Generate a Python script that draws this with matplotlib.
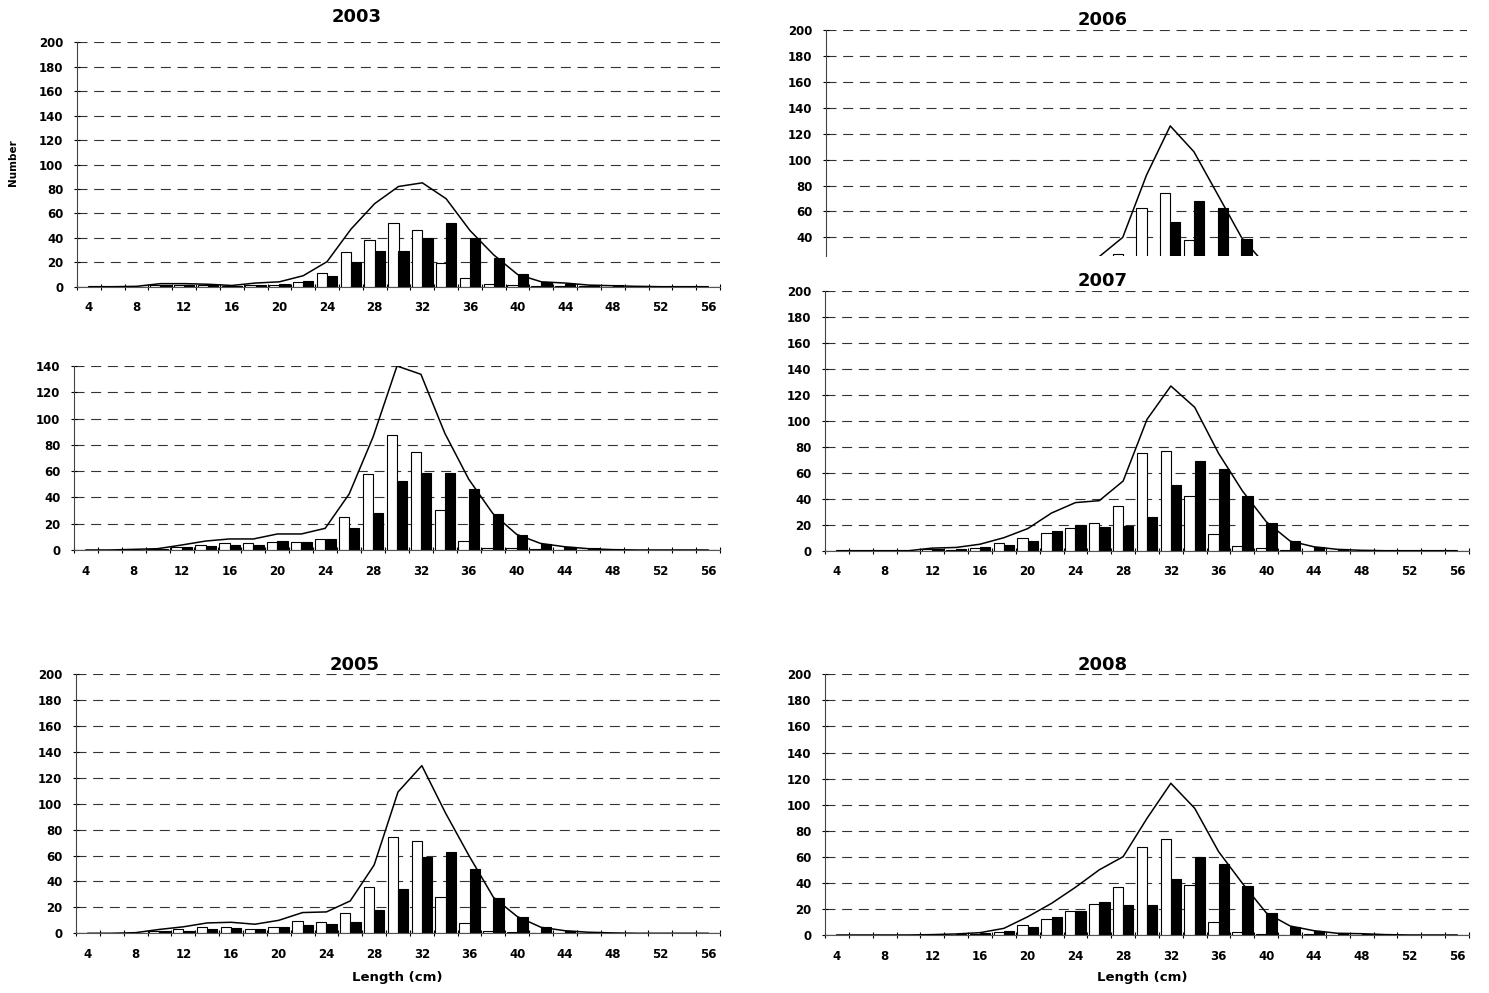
import matplotlib
matplotlib.use("Agg")
import matplotlib.pyplot as plt
import numpy as np

plt.rcParams['font.family'] = 'DejaVu Sans'
plt.rcParams['font.weight'] = 'bold'

# length classes (cm)
lengths = [4, 6, 8, 10, 12, 14, 16, 18, 20, 22, 24, 26, 28, 30, 32, 34,
           36, 38, 40, 42, 44, 46, 48, 50, 52, 54, 56]

# white bars, black bars and the total line for each year
white_2003 = [0, 0, 0, 1, 1, 1, 0.5, 1.5, 1.5, 4, 11.5, 28, 38, 52.5, 46, 19, 7, 2, 1, 0.5, 0.5, 0.3, 0, 0, 0, 0, 0]
black_2003 = [0, 0, 0, 1.5, 1.5, 1, 0.5, 1.5, 2.5, 5, 9, 20, 29.5, 29.5, 40, 52.5, 40, 23.5, 10, 4, 2.5, 1, 1, 0.3, 0, 0, 0]
total_2003 = [0, 0, 0.3, 2.5, 2.5, 2, 1, 3, 4, 9, 20.5, 47, 68, 82, 85, 72, 46, 26, 10, 4, 3, 1.3, 0.8, 0.3, 0, 0, 0]

white_2004 = [0, 0, 0, 0.5, 2, 3.8, 5, 5, 5.8, 5.8, 8.4, 25.4, 57.8, 87.5, 74.8, 30.4, 7.1, 1.8, 1.8, 0.8, 0.3, 0, 0, 0, 0, 0, 0]
black_2004 = [0, 0, 0, 0.5, 2, 3, 4, 4, 6.8, 6.1, 8.4, 16.7, 28.4, 52.5, 58.8, 58.8, 46.4, 27.4, 11.4, 4.3, 2.3, 1.3, 0.3, 0, 0, 0, 0]
total_2004 = [0, 0, 0.5, 1, 3.8, 6.8, 8.4, 8.4, 12.2, 12.2, 16.5, 42.6, 86, 140, 133.7, 88.8, 53.8, 27.9, 11.9, 5, 2.5, 1, 0.3, 0, 0, 0, 0]

white_2005 = [0, 0, 0, 1.5, 3, 5, 4.5, 3.5, 5, 9.5, 9, 16, 35.5, 74.6, 71.2, 27.8, 8.2, 1.8, 1, 0.3, 0, 0, 0, 0, 0, 0, 0]
black_2005 = [0, 0, 0, 1.5, 2, 3, 4, 3.5, 5, 6.5, 7.5, 9, 18, 34.4, 59.1, 63, 49.4, 27, 12.3, 4.9, 1.8, 1, 0.3, 0, 0, 0, 0]
total_2005 = [0, 0, 0.5, 3, 5, 8, 8.5, 7, 10, 16, 16.5, 25, 52.7, 109, 129.3, 92.5, 59.1, 27.8, 12.9, 4.6, 2, 0.8, 0.3, 0, 0, 0, 0]

white_2006 = [0, 0, 0, 0, 0.5, 1, 2, 4, 6, 8, 10, 12, 27, 63, 74, 38, 10, 1, 1, 0.3, 0, 0, 0, 0, 0, 0, 0]
black_2006 = [0, 0, 0, 0, 0.5, 1, 1.5, 3, 5, 8, 11, 13, 13, 25, 52, 68, 63, 39, 18, 5, 2, 0.5, 0.3, 0, 0, 0, 0]
total_2006 = [0, 0, 0, 0, 1, 2, 3.5, 7, 11, 16, 21, 25, 40, 88, 126, 106, 73, 40, 19, 5.3, 2, 0.5, 0.3, 0, 0, 0, 0]

white_2007 = [0, 0, 0, 0, 1, 0.8, 2.3, 5.6, 9.5, 13.8, 17.7, 21, 34.6, 74.9, 76.7, 42, 12.8, 3.6, 1.8, 0.3, 0, 0, 0, 0, 0, 0, 0]
black_2007 = [0, 0, 0, 0, 1, 1.5, 3.1, 4.4, 7.7, 15.1, 19.5, 18.5, 19.2, 25.6, 50.5, 69, 62.6, 42, 21, 7.4, 3.1, 1, 0.3, 0, 0, 0, 0]
total_2007 = [0, 0, 0, 0, 2, 2.5, 5, 10, 17, 29, 37, 38.5, 53.6, 101, 126.7, 110.3, 74.9, 46, 22.3, 7.4, 3, 1, 0.3, 0, 0, 0, 0]

white_2008 = [0, 0, 0, 0, 0, 0.3, 0.5, 2.6, 7.4, 12, 18.4, 23.8, 37.1, 67.8, 73.4, 38.1, 9.7, 2.6, 1, 0.3, 0.5, 0, 0, 0, 0, 0, 0]
black_2008 = [0, 0, 0, 0, 0, 0.5, 1.3, 3, 6.4, 14.1, 18.4, 25.6, 23, 23, 42.7, 59.6, 54.5, 37.6, 16.6, 6.4, 3.1, 1.3, 1, 0.3, 0, 0, 0]
total_2008 = [0, 0, 0, 0, 0.3, 0.8, 1.8, 5.1, 14, 24.3, 36.6, 50, 60.1, 89.5, 116.4, 97.2, 64, 39.6, 17, 6.9, 3.3, 1.3, 1, 0.3, 0, 0, 0]

W, H = 1489, 993
fig = plt.figure(figsize=(W / 100, H / 100), dpi=100)


def box(l, t, r, b):
    # pixel box -> figure fraction
    return [l / W, 1 - b / H, (r - l) / W, (b - t) / H]


def panel(rect, white, black, total, ymin, ymax, show_x=True):
    ax = fig.add_axes(box(*rect))
    x = np.arange(len(lengths))
    ax.bar(x - 0.215, white, width=0.43, color='white', edgecolor='black', linewidth=0.8, zorder=2)
    ax.bar(x + 0.215, black, width=0.43, color='black', edgecolor='black', linewidth=0.8, zorder=2)
    ax.plot(x, total, color='black', linewidth=1.1, zorder=3)

    ax.set_xlim(-0.5, len(lengths) - 0.5)
    ax.set_ylim(ymin, ymax)
    first = int(np.ceil(ymin / 20.0) * 20)
    ax.set_yticks(np.arange(first, ymax + 1, 20))

    ax.set_axisbelow(True)
    ax.yaxis.grid(True, linestyle=(0, (9, 6)), color='#333333', linewidth=0.8)

    for s in ['top', 'right']:
        ax.spines[s].set_visible(False)
    ax.spines['left'].set_color('#444444')
    ax.spines['bottom'].set_color('#555555')
    ax.tick_params(axis='y', direction='inout', length=4.5, width=0.8, pad=7.5, labelsize=8.5)

    if show_x:
        ax.set_xticks(np.arange(-0.5, len(lengths), 1))
        ax.set_xticks(x[::2], minor=True)
        ax.set_xticklabels([str(v) for v in lengths[::2]], minor=True)
        ax.tick_params(axis='x', which='major', direction='inout', length=4.5, width=0.8, labelbottom=False)
        ax.tick_params(axis='x', which='minor', length=0, pad=10.5, labelsize=8.5)
    else:
        ax.spines['bottom'].set_visible(False)
        ax.set_xticks([])
    return ax


panel((77, 42.3, 720, 286.7), white_2003, black_2003, total_2003, 0, 200)
panel((74, 366, 720, 550), white_2004, black_2004, total_2004, 0, 140)
panel((76, 674, 720, 933.3), white_2005, black_2005, total_2005, 0, 200)
panel((826, 30, 1467, 255.5), white_2006, black_2006, total_2006, 26, 200, show_x=False)
panel((825, 290.7, 1469, 550.7), white_2007, black_2007, total_2007, 0, 200)
panel((825, 674.3, 1469, 935), white_2008, black_2008, total_2008, 0, 200)

# titles
for txt, px, py in [('2003', 357, 17), ('2006', 1103, 20), ('2007', 1103, 281),
                     ('2005', 355, 665), ('2008', 1103, 665)]:
    fig.text(px / W, 1 - py / H, txt, ha='center', va='center', fontsize=13, fontweight='bold')

fig.text(397 / W, 1 - 978 / H, 'Length (cm)', ha='center', va='center', fontsize=9.5, fontweight='bold')
fig.text(1142 / W, 1 - 978 / H, 'Length (cm)', ha='center', va='center', fontsize=9.5, fontweight='bold')
fig.text(13 / W, 1 - 163 / H, 'Number', ha='center', va='center', rotation=90, fontsize=7.5, fontweight='bold')

fig.savefig('out.png', dpi=100, facecolor='white')
